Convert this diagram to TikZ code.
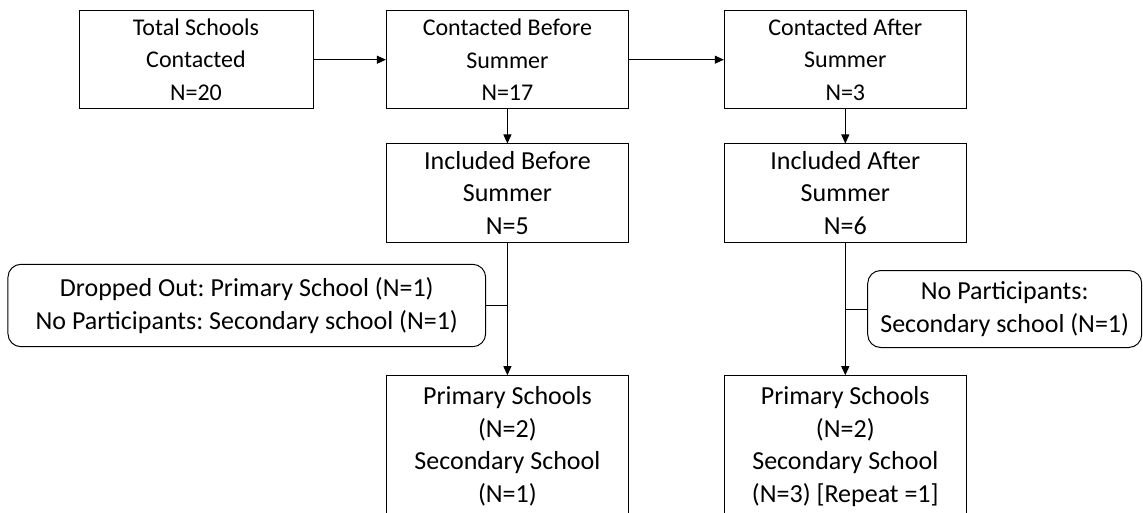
\documentclass[tikz,border=0pt]{standalone}
\usepackage{fontspec}
\setmainfont{Carlito}
\usetikzlibrary{arrows.meta}
\frenchspacing
\begin{document}
\begin{tikzpicture}[x=1pt,y=-1pt,
    box/.style={draw, line width=1pt, align=center, inner sep=0pt,
      font=\fontsize{26}{32.5}\selectfont},
    stage/.style={box, minimum width=242pt, minimum height=98pt},
    toprow/.style={font=\fontsize{24}{32.5}\selectfont},
    note/.style={box, rounded corners=13pt},
    >={Triangle[length=9pt,width=8pt]}]
  \useasboundingbox (0,0) rectangle (1143,513);
  \clip (0,0) rectangle (1143,513);
  % first row
  \node[box, toprow, minimum width=234pt, minimum height=98pt] (total) at (196,59.7) {Total Schools\\Contacted\\N=20};
  \node[stage, toprow] (before) at (507.4,59.7) {Contacted Before\\Summer\\N=17};
  \node[stage, toprow] (after) at (845.3,59.7) {Contacted After\\Summer\\N=3};
  % second row
  \node[stage] (inclB) at (507.4,193) {Included Before\\Summer\\N=5};
  \node[stage] (inclA) at (845.3,193) {Included After\\Summer\\N=6};
  % exclusions
  \node[note, minimum width=477.7pt, minimum height=82.4pt] (drop) at (246.8,305.5) {Dropped Out: Primary School (N=1)\\No Participants: Secondary school (N=1)};
  \node[note, minimum width=274pt, minimum height=77pt] (nopart) at (1004.7,309) {No Participants:\\Secondary school (N=1)};
  % last row
  \node[stage, minimum height=141.6pt] (primB) at (507.4,446.5) {Primary Schools\\(N=2)\\Secondary School\\(N=1)};
  \node[stage, minimum height=141.6pt] (primA) at (845.3,446.5) {Primary Schools\\(N=2)\\Secondary School\\(N=3) [Repeat =1]};
  \begin{scope}[->, line width=1pt]
    \draw (total) to (before);
    \draw (before) to (after);
    \draw (before) to (inclB);
    \draw (after) to (inclA);
    \draw (inclB) to (primB);
    \draw (inclA) to (primA);
  \end{scope}
  \begin{scope}[-, line width=1pt]
    \draw (drop.east) to (drop.east -| inclB.south);
    \draw (nopart.west) to (nopart.west -| inclA.south);
  \end{scope}
\end{tikzpicture}
\end{document}
